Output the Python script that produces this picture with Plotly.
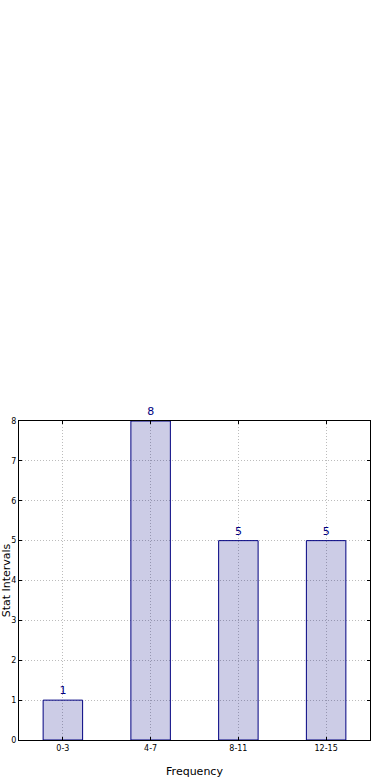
import plotly.graph_objects as go

categories = ["0-3", "4-7", "8-11", "12-15"]
values = [1, 8, 5, 5]
y_ticks = [0, 1, 2, 3, 4, 5, 6, 7, 8]

fig = go.Figure()
fig.add_trace(go.Bar(
    x=categories,
    y=values,
    width=0.45,
    marker=dict(color="rgba(0,0,128,0.2)", line=dict(color="#000080", width=1)),
    text=[str(v) for v in values],
    textposition="outside",
    textfont=dict(color="#000080", size=11, family="DejaVu Sans"),
    cliponaxis=False,
))

axis_common = dict(
    showline=True, linecolor="black", linewidth=1, mirror="allticks",
    ticks="inside", ticklen=3, tickcolor="black",
    showgrid=True, gridcolor="#bcbcbc", griddash="1px,2px", gridwidth=1,
    zeroline=False, automargin=False,
    tickfont=dict(size=8, color="black", family="DejaVu Sans"),
)

fig.update_xaxes(
    title=dict(text="Frequency", font=dict(size=11, color="black", family="DejaVu Sans")),
    range=[-0.5, 3.5],
    **axis_common,
)
fig.update_yaxes(
    title=dict(text="Stat Intervals", font=dict(size=11, color="black", family="DejaVu Sans")),
    range=[0, 8],
    tickvals=y_ticks,
    **axis_common,
)

fig.update_layout(
    width=390, height=780,
    margin=dict(l=19, r=20, t=421, b=40),
    plot_bgcolor="white", paper_bgcolor="white",
    showlegend=False,
    font=dict(family="DejaVu Sans"),
)

fig.write_html("out.html", config={"displayModeBar": False},
               post_script="document.body.style.margin='0';")
